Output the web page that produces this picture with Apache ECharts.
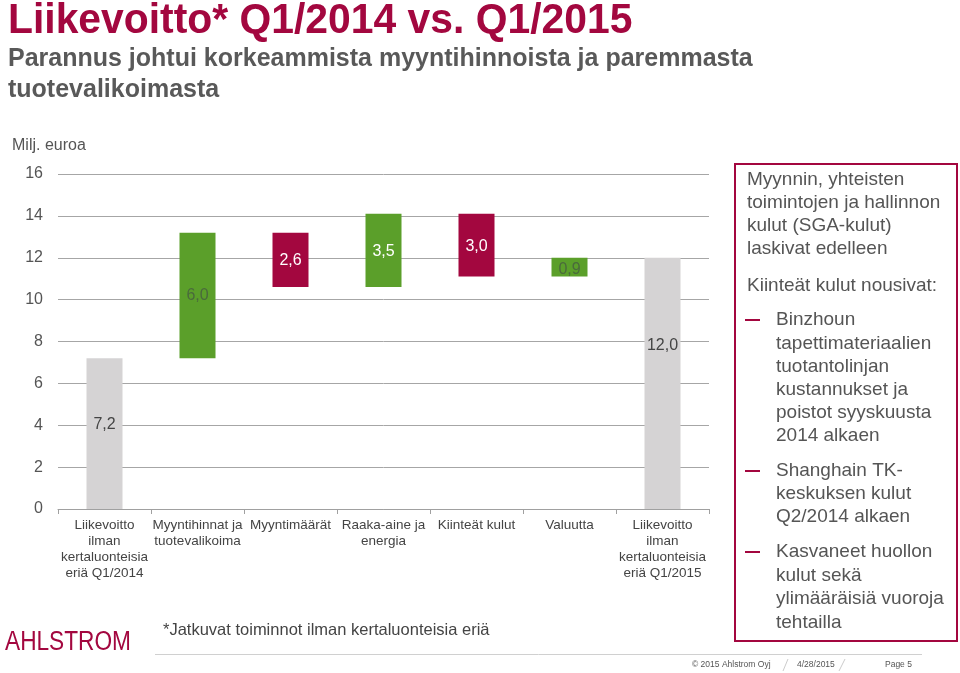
<!DOCTYPE html>
<html>
<head>
<meta charset="utf-8">
<script src="https://cdn.jsdelivr.net/npm/echarts@6/dist/echarts.min.js"></script>
<style>html,body{margin:0;padding:0;background:#fff}#c{width:960px;height:673px}</style>
</head>
<body>
<div id="c"></div>
<script>
// ---- data ----
const categories = [
  'Liikevoitto\nilman\nkertaluonteisia\neriä Q1/2014',
  'Myyntihinnat ja\ntuotevalikoima',
  'Myyntimäärät',
  'Raaka-aine ja\nenergia',
  'Kiinteät kulut',
  'Valuutta',
  'Liikevoitto\nilman\nkertaluonteisia\neriä Q1/2015'
];
const startValue = 7.2;
const changes = [6.0, -2.6, 3.5, -3.0, 0.9];
const endValue = 12.0;
const yTickValues = [0, 2, 4, 6, 8, 10, 12, 14, 16];

// ---- styles ----
const CRIMSON = '#a3073f';
const GREEN = '#5b9f2a';
const GREY_BAR = '#d5d3d4';
const labelColors = ['#444444', '#4a6a3c', '#ffffff', '#ffffff', '#ffffff', '#4a6a3c', '#444444'];
const labelOffsets = [[0, -9], [0, 0], [0, 1], [0, 1], [0, 1], [0, 2], [0, -38]];

// ---- build waterfall ----
const bases = [0], heights = [startValue], kinds = ['total'];
let run = startValue;
changes.forEach(d => {
  const next = Math.round((run + d) * 10) / 10;
  bases.push(Math.min(run, next));
  heights.push(Math.abs(d));
  kinds.push(d >= 0 ? 'up' : 'down');
  run = next;
});
bases.push(0); heights.push(endValue); kinds.push('total');

const colorOf = k => k === 'total' ? GREY_BAR : (k === 'up' ? GREEN : CRIMSON);
const fmt = v => v.toFixed(1).replace('.', ',');

const visibleData = heights.map((h, i) => ({
  value: h,
  itemStyle: { color: colorOf(kinds[i]) },
  label: { color: labelColors[i], offset: labelOffsets[i] }
}));

const FONT = '"Liberation Sans", Arial, Helvetica, sans-serif';

const textLines = (x, y, text, size, color, weight, lh) => ({
  type: 'text', x: x, y: y, silent: true,
  style: { text: text, fill: color, fontSize: size, fontFamily: FONT, fontWeight: weight || 'normal',
           lineHeight: lh || size * 1.2, verticalAlign: 'top', align: 'left' }
});
const midText = (x, y, text, size, color, weight, align) => ({
  type: 'text', x: x, y: y, silent: true,
  style: { text: text, fill: color, fontSize: size, fontFamily: FONT, fontWeight: weight || 'normal',
           verticalAlign: 'middle', align: align || 'left' }
});
const dash = y => ({ type: 'line', silent: true, shape: { x1: 745, y1: y, x2: 760, y2: y },
                     style: { stroke: CRIMSON, lineWidth: 2 } });

const title = midText(8, 21, 'Liikevoitto* Q1/2014 vs. Q1/2015', 43, CRIMSON, 'bold');
title.scaleX = 0.95;
const logo = midText(5, 643, 'AHLSTROM', 27, CRIMSON);
logo.scaleX = 0.84;

const chart = echarts.init(document.getElementById('c'), null, { renderer: 'canvas' });
chart.setOption({
  animation: false,
  backgroundColor: '#ffffff',
  grid: { left: 58, right: 251, top: 174, bottom: 164, containLabel: false },
  xAxis: {
    type: 'category',
    data: categories,
    axisLine: { show: true, lineStyle: { color: '#a0a0a0', width: 1 } },
    axisTick: { show: true, alignWithLabel: false, length: 5, lineStyle: { color: '#a0a0a0' } },
    axisLabel: { interval: 0, color: '#444444', fontSize: 13.5, lineHeight: 16, fontFamily: FONT, margin: 8, hideOverlap: false }
  },
  yAxis: {
    type: 'value',
    min: yTickValues[0],
    max: yTickValues[yTickValues.length - 1],
    interval: yTickValues[1] - yTickValues[0],
    axisLine: { show: false },
    axisTick: { show: false },
    axisLabel: { color: '#555555', fontSize: 16, fontFamily: FONT, margin: 15 },
    splitLine: { show: true, lineStyle: { color: '#a6a6a6', width: 1 } }
  },
  series: [
    {
      type: 'bar', stack: 'w', silent: true, barWidth: 36,
      itemStyle: { color: 'rgba(0,0,0,0)' },
      data: bases
    },
    {
      type: 'bar', stack: 'w', barWidth: 36,
      data: visibleData,
      label: {
        show: true, position: 'inside', fontSize: 16, fontFamily: FONT,
        formatter: p => fmt(p.value)
      }
    }
  ],
  graphic: [
    title,
    midText(8, 59, 'Parannus johtui korkeammista myyntihinnoista ja paremmasta', 25, '#595959', 'bold'),
    midText(8, 90, 'tuotevalikoimasta', 25, '#595959', 'bold'),
    midText(12, 146, 'Milj. euroa', 16, '#555555'),
    midText(163, 630, '*Jatkuvat toiminnot ilman kertaluonteisia eriä', 16.5, '#444444'),
    logo,
    { type: 'line', silent: true, shape: { x1: 155, y1: 654.5, x2: 922, y2: 654.5 }, style: { stroke: '#d0d0d0', lineWidth: 1 } },
    midText(692, 665, '© 2015 Ahlstrom Oyj', 8.5, '#555555'),
    { type: 'line', silent: true, shape: { x1: 783, y1: 671, x2: 788, y2: 659 }, style: { stroke: '#cccccc', lineWidth: 1 } },
    midText(797, 665, '4/28/2015', 8.5, '#555555'),
    { type: 'line', silent: true, shape: { x1: 839, y1: 671, x2: 845, y2: 659 }, style: { stroke: '#cccccc', lineWidth: 1 } },
    midText(885, 665, 'Page 5', 8.5, '#555555'),
    { type: 'rect', silent: true, shape: { x: 735, y: 164, width: 222, height: 477 },
      style: { fill: 'none', stroke: CRIMSON, lineWidth: 2 } },
    textLines(747, 168.5, 'Myynnin, yhteisten\ntoimintojen ja hallinnon\nkulut (SGA-kulut)\nlaskivat edelleen', 19, '#555555', 'normal', 23),
    textLines(747, 274.5, 'Kiinteät kulut nousivat:', 19, '#555555', 'normal', 23),
    dash(320),
    textLines(776, 308.5, 'Binzhoun\ntapettimateriaalien\ntuotantolinjan\nkustannukset ja\npoistot syyskuusta\n2014 alkaen', 19, '#555555', 'normal', 23.2),
    dash(471),
    textLines(776, 459.5, 'Shanghain TK-\nkeskuksen kulut\nQ2/2014 alkaen', 19, '#555555', 'normal', 23),
    dash(552),
    textLines(776, 540.5, 'Kasvaneet huollon\nkulut sekä\nylimääräisiä vuoroja\ntehtailla', 19, '#555555', 'normal', 23.5)
  ]
});
</script>
</body>
</html>
